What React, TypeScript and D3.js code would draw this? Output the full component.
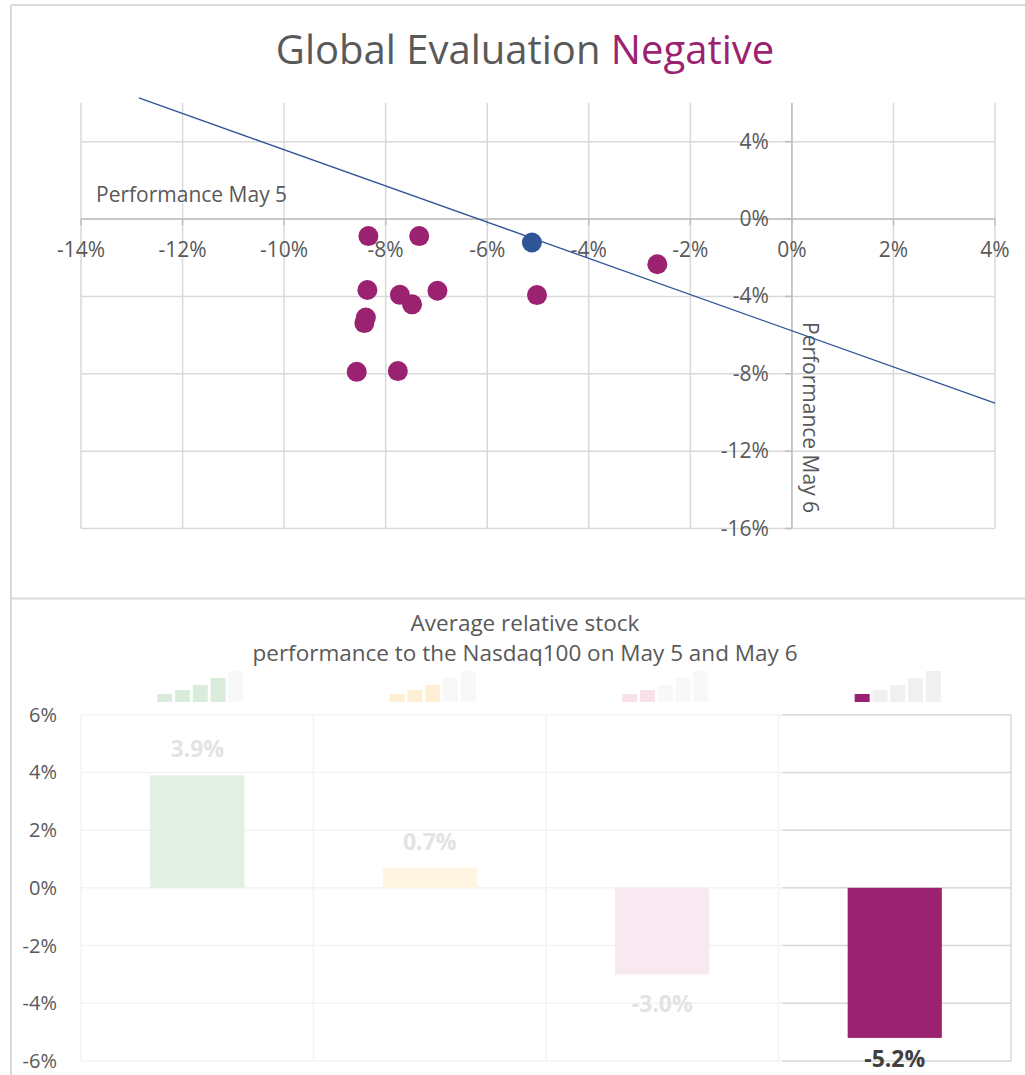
import React from "react";
import * as d3 from "d3";

// scatter: performance on May 5 (x) vs May 6 (y), in %
const may5 = [-8.34, -7.34, -5.12, -2.65, -8.36, -7.72, -7.48, -6.98, -5.02, -8.39, -8.42, -8.57, -7.76];
const may6 = [-0.88, -0.88, -1.21, -2.34, -3.67, -3.92, -4.41, -3.71, -3.93, -5.09, -5.38, -7.9, -7.86];
const highlightIndex = 2; // the blue point

// linear trendline end points [x, y]
const trendX = [-12.86, 4];
const trendY = [6.26, -9.52];

const xTicks = [-14, -12, -10, -8, -6, -4, -2, 0, 2, 4];
const yTicks = [-16, -12, -8, -4, 0, 4];

// bottom chart
const categories = ["Very positive", "Positive", "Negative", "Very negative"];
const averages = [3.9, 0.7, -3.0, -5.2];
const barColors = ["#E2F0E4", "#FFF5E1", "#F8E8F0", "#9B2270"];
const iconColors = ["#DAEDDC", "#FFEFD5", "#F8E0EB", "#9B2270"];
const iconLevels = [4, 3, 2, 1];
const iconHeights = [8, 12, 17, 24, 31];
const bottomTicks = [-6, -4, -2, 0, 2, 4, 6];
const highlighted = 3;

const PURPLE = "#9B2270";
const BLUE = "#2F5597";
const GREY_TEXT = "#595959";
const FONT = "'Open Sans', 'Noto Sans', sans-serif";

const App: React.FC = () => {
  const width = 1025;
  const height = 1075;

  // top chart scales
  const x = d3.scaleLinear().domain([-14, 4]).range([81, 995]);
  const y = d3.scaleLinear().domain([-16, 6]).range([528.5, 103]);

  const trendLine = d3
    .line<number>()
    .x((d) => x(d))
    .y((_, i) => y(trendY[i]));

  // bottom chart scales
  const xb = d3.scaleBand<string>().domain(categories).range([81, 1011]);
  const yb = d3.scaleLinear().domain([-6, 6]).range([1061, 714.7]);
  const barW = xb.bandwidth() * 0.405;
  const hiX0 = xb(categories[highlighted])! + 4;

  const iconW = 15;
  const iconStep = 17.8;
  const iconBase = 702;

  return (
    <svg
      width={width}
      height={height}
      style={{ position: "absolute", left: 0, top: 0, background: "#fff" }}
      fontFamily={FONT}
    >
      {/* frames */}
      <line x1={11} x2={width} y1={5} y2={5} stroke="#D9D9D9" strokeWidth={2} />
      <line x1={11} x2={11} y1={5} y2={height} stroke="#D9D9D9" strokeWidth={2} />
      <line x1={11} x2={width} y1={598.5} y2={598.5} stroke="#D9D9D9" strokeWidth={2} />

      {/* title */}
      <text x={525} y={64} textAnchor="middle" fontSize={40} fill={GREY_TEXT}>
        Global Evaluation <tspan fill={PURPLE}>Negative</tspan>
      </text>

      {/* grid */}
      {xTicks.map((t) => (
        <line key={"gx" + t} x1={x(t)} x2={x(t)} y1={y(6)} y2={y(-16)} stroke="#D9D9D9" strokeWidth={1.5} />
      ))}
      {yTicks.map((t) => (
        <line key={"gy" + t} x1={x(-14)} x2={x(4)} y1={y(t)} y2={y(t)} stroke="#D9D9D9" strokeWidth={1.5} />
      ))}

      {/* axes through zero */}
      <line x1={x(-14)} x2={x(4)} y1={y(0)} y2={y(0)} stroke="#BFBFBF" strokeWidth={1.5} />
      <line x1={x(0)} x2={x(0)} y1={y(6)} y2={y(-16)} stroke="#BFBFBF" strokeWidth={1.5} />
      {xTicks.map((t) => (
        <g key={"tx" + t}>
          <line x1={x(t)} x2={x(t)} y1={y(0)} y2={y(0) + 6} stroke="#BFBFBF" strokeWidth={1.5} />
          <text x={x(t)} y={y(0) + 38} textAnchor="middle" fontSize={21} fill={GREY_TEXT}>
            {t + "%"}
          </text>
        </g>
      ))}
      {yTicks.map((t) => (
        <g key={"ty" + t}>
          <line x1={x(0) - 7} x2={x(0)} y1={y(t)} y2={y(t)} stroke="#BFBFBF" strokeWidth={1.5} />
          <text x={x(0) - 23} y={y(t) + 7} textAnchor="end" fontSize={21} fill={GREY_TEXT}>
            {t + "%"}
          </text>
        </g>
      ))}

      {/* axis titles */}
      <text x={96} y={202} fontSize={21} fill={GREY_TEXT}>
        Performance May 5
      </text>
      <text transform={`translate(803,322) rotate(90)`} fontSize={21} fill={GREY_TEXT}>
        Performance May 6
      </text>

      {/* trendline */}
      <path d={trendLine(trendX)!} fill="none" stroke={BLUE} strokeWidth={1.3} />

      {/* points */}
      {may5.map((v, i) => (
        <circle
          key={"p" + i}
          cx={x(v)}
          cy={y(may6[i])}
          r={10}
          fill={i === highlightIndex ? BLUE : PURPLE}
        />
      ))}

      {/* bottom chart title */}
      <text x={525} y={631} textAnchor="middle" fontSize={22.5} fill={GREY_TEXT}>
        Average relative stock
      </text>
      <text x={525} y={661} textAnchor="middle" fontSize={22.5} fill={GREY_TEXT}>
        performance to the Nasdaq100 on May 5 and May 6
      </text>

      {/* faint grid */}
      {bottomTicks.map((t) => (
        <line key={"bg" + t} x1={81} x2={1011} y1={yb(t)} y2={yb(t)} stroke="#F3F3F3" strokeWidth={1.5} />
      ))}
      {categories.map((c) => (
        <line key={"bv" + c} x1={xb(c)!} x2={xb(c)!} y1={yb(6)} y2={yb(-6)} stroke="#F3F3F3" strokeWidth={1.5} />
      ))}
      {/* highlighted panel grid */}
      {bottomTicks.map((t) => (
        <line key={"hg" + t} x1={hiX0} x2={1011} y1={yb(t)} y2={yb(t)} stroke="#D9D9D9" strokeWidth={1.5} />
      ))}
      <line x1={1011} x2={1011} y1={yb(6)} y2={yb(-6)} stroke="#D9D9D9" strokeWidth={1.5} />

      {bottomTicks.map((t) => (
        <text key={"bt" + t} x={57} y={yb(t) + 7} textAnchor="end" fontSize={20} fill={GREY_TEXT}>
          {t + "%"}
        </text>
      ))}

      {/* bars */}
      {categories.map((c, i) => {
        const cx = xb(c)! + xb.bandwidth() / 2;
        const v = averages[i];
        const top = v >= 0 ? yb(v) : yb(0);
        const h = Math.abs(yb(v) - yb(0));
        const isHi = i === highlighted;
        return (
          <g key={"bar" + c}>
            <rect x={cx - barW / 2} y={top} width={barW} height={h} fill={barColors[i]} />
            <text
              x={cx}
              y={v >= 0 ? yb(v) - 18 : yb(v) + (isHi ? 29 : 38)}
              textAnchor="middle"
              fontSize={23}
              fontWeight="bold"
              fill={isHi ? "#404040" : "#E3E3E3"}
            >
              {v.toFixed(1) + "%"}
            </text>
            {/* rating icon */}
            {iconHeights.map((ih, k) => (
              <rect
                key={"ic" + k}
                x={cx + 3 - (iconStep * 4 + iconW) / 2 + k * iconStep}
                y={iconBase - ih}
                width={iconW}
                height={ih}
                fill={k < iconLevels[i] ? iconColors[i] : isHi ? "#F0F0F0" : "#F8F8F8"}
              />
            ))}
          </g>
        );
      })}
    </svg>
  );
};

export default App;
